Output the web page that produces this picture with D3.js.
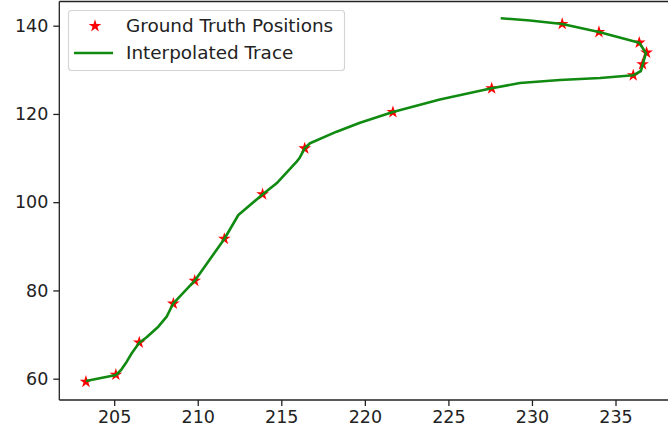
<!DOCTYPE html>
<html>
<head>
<meta charset="utf-8">
<script src="https://cdn.jsdelivr.net/npm/d3@7"></script>
<style>
  html, body { margin: 0; padding: 0; background: #fff; }
  svg { display: block; font-family: "DejaVu Sans", sans-serif; }
</style>
</head>
<body>
<svg id="chart" width="668" height="436"></svg>
<script>
// Ground truth samples (x, y)
const truthX = [203.31, 205.10, 206.50, 208.54, 209.82, 211.59, 213.88, 216.40,
                221.68, 227.59, 236.06, 236.62, 236.86, 236.42, 234.01, 231.81];
const truthY = [59.3, 60.9, 68.2, 77.0, 82.2, 91.7, 101.8, 112.2,
                120.4, 125.8, 128.75, 131.25, 133.88, 136.15, 138.57, 140.39];

// Interpolated trace (x, y)
const traceX = [203.31, 205.11, 205.41, 205.75, 206.05, 206.50, 206.94, 207.64, 208.14, 208.54,
                209.82, 211.59, 212.43, 213.89, 214.72, 215.92, 216.08, 216.40, 216.72,
                218.31, 219.71, 221.68, 224.49, 227.59, 229.28, 231.67, 234.08, 236.06, 236.52,
                236.64, 236.82, 236.42, 234.01, 231.81, 229.88, 228.13];
const traceY = [59.48, 60.84, 61.97, 63.85, 65.76, 68.16, 69.38, 71.78, 74.05, 77.09,
                82.21, 91.66, 97.10, 101.79, 104.28, 109.18, 109.95, 112.21, 113.35,
                115.98, 118.02, 120.44, 123.27, 125.81, 127.01, 127.69, 128.15, 128.76, 129.73,
                131.32, 133.81, 136.15, 138.57, 140.39, 141.18, 141.68];

// Axis limits and ticks
const xLim = [201.715, 238.68];
const yLim = [55.17, 145.48];
const xTicks = [205, 210, 215, 220, 225, 230, 235];
const yTicks = [60, 80, 100, 120, 140];

const legendLabels = ["Ground Truth Positions", "Interpolated Trace"];

const FS = 17.5;
const LEGEND_FS = 18.4;
const GREEN = "#108a10";
const plot = { left: 59.3, right: 677, top: 1.5, bottom: 400 };

const svg = d3.select("#chart");

const x = d3.scaleLinear().domain(xLim).range([plot.left, plot.right]);
const y = d3.scaleLinear().domain(yLim).range([plot.bottom, plot.top]);

// Markers
const star = d3.symbol().type(d3.symbolStar).size(50);
svg.append("g")
  .selectAll("path")
  .data(truthX.map((v, i) => [v, truthY[i]]))
  .join("path")
  .attr("d", star)
  .attr("transform", d => `translate(${x(d[0])},${y(d[1])})`)
  .attr("fill", "#ff0000");

// Trace line
const line = d3.line().x(d => x(d[0])).y(d => y(d[1]));
svg.append("path")
  .datum(traceX.map((v, i) => [v, traceY[i]]))
  .attr("d", line)
  .attr("fill", "none")
  .attr("stroke", GREEN)
  .attr("stroke-width", 2.6)
  .attr("stroke-linejoin", "round")
  .attr("stroke-linecap", "butt");

// Axes
const xAxis = d3.axisBottom(x).tickValues(xTicks).tickSize(6).tickPadding(5).tickFormat(d3.format("d"));
const yAxis = d3.axisLeft(y).tickValues(yTicks).tickSize(6).tickPadding(5).tickFormat(d3.format("d"));

const gx = svg.append("g").attr("transform", `translate(0,${plot.bottom})`).call(xAxis);
const gy = svg.append("g").attr("transform", `translate(${plot.left},0)`).call(yAxis);
[gx, gy].forEach(g => {
  g.select(".domain").remove();
  g.selectAll(".tick line").attr("stroke", "#222").attr("stroke-width", 1.3);
  g.selectAll(".tick text").attr("fill", "#222").style("font-size", FS + "px")
    .style("font-family", "'DejaVu Sans', sans-serif");
});

// Spines
const spines = svg.append("g").attr("stroke", "#222").attr("stroke-width", 1.3).attr("fill", "none");
spines.append("line").attr("x1", plot.left).attr("x2", plot.left).attr("y1", plot.top).attr("y2", plot.bottom);
spines.append("line").attr("x1", plot.left).attr("x2", plot.right).attr("y1", plot.bottom).attr("y2", plot.bottom);
spines.append("line").attr("x1", plot.left).attr("x2", plot.right).attr("y1", plot.top).attr("y2", plot.top);
spines.append("line").attr("x1", plot.right).attr("x2", plot.right).attr("y1", plot.top).attr("y2", plot.bottom);

// Legend
const lg = svg.append("g");
lg.append("rect")
  .attr("x", 68.5).attr("y", 10.5).attr("width", 276).attr("height", 60)
  .attr("rx", 3).attr("ry", 3)
  .attr("fill", "#fff").attr("fill-opacity", 0.8)
  .attr("stroke", "#d4d4d4").attr("stroke-width", 1.1);

const rowY = [26, 53];
lg.append("path")
  .attr("d", star)
  .attr("transform", `translate(${95},${rowY[0]})`)
  .attr("fill", "#ff0000");
lg.append("line")
  .attr("x1", 74).attr("x2", 113).attr("y1", rowY[1]).attr("y2", rowY[1])
  .attr("stroke", GREEN).attr("stroke-width", 2.6);
lg.selectAll("text")
  .data(legendLabels)
  .join("text")
  .attr("x", 126)
  .attr("y", (d, i) => rowY[i])
  .attr("dy", "0.35em")
  .attr("fill", "#222")
  .style("font-size", LEGEND_FS + "px")
  .text(d => d);
</script>
</body>
</html>
